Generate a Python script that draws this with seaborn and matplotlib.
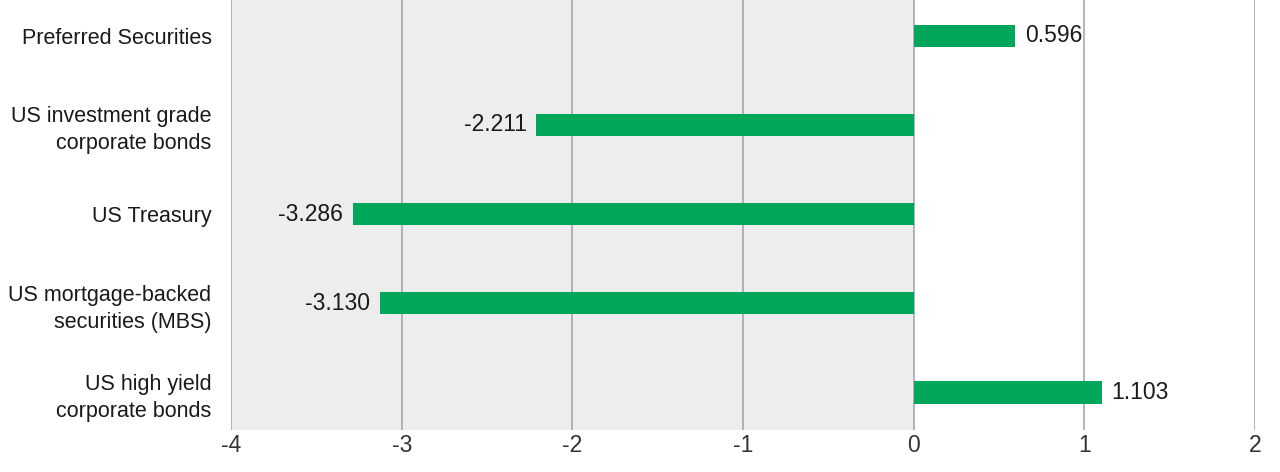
import matplotlib
matplotlib.use("Agg")
import matplotlib.pyplot as plt
import seaborn as sns

categories = ["Preferred Securities",
              "US investment grade\ncorporate bonds",
              "US Treasury",
              "US mortgage-backed\nsecurities (MBS)",
              "US high yield\ncorporate bonds"]
values = [0.596, -2.211, -3.286, -3.130, 1.103]
xticks = [-4, -3, -2, -1, 0, 1, 2]

sns.set_theme(style="white")
plt.rcParams['font.family'] = ['Liberation Sans', 'DejaVu Sans']

fig = plt.figure(figsize=(12.8, 4.72), dpi=100)
ax = fig.add_axes([0.1805, 0.089, 0.8, 0.911])

# grey shaded negative side + vertical grid
ax.axvspan(-4, 0, color='#ededed', zorder=0, lw=0)
for t in xticks:
    ax.axvline(t, color='#a0a0ac', lw=1.1, zorder=1)

sns.barplot(x=values, y=categories, color='#00a65a', width=0.25,
            saturation=1, orient='h', ax=ax, zorder=2, linewidth=0)
ax.bar_label(ax.containers[0], fmt='%.3f', padding=7, fontsize=16.5, color='#1a1a1a')

ax.set_xlim(-4, 2)
ax.set_ylim(4.42, -0.4)
ax.set_xticks(xticks)
ax.set_xticklabels([str(t) for t in xticks], fontsize=16.5, color='#333333')
ax.tick_params(axis='y', labelsize=15.5, colors='#1a1a1a', length=0, pad=14)
ax.tick_params(axis='x', length=0, pad=3)
for lbl in ax.get_yticklabels():
    lbl.set_horizontalalignment('right')
    lbl.set_multialignment('right')
    lbl.set_linespacing(1.38)
for s in ax.spines.values():
    s.set_visible(False)
ax.set_xlabel('')
ax.set_ylabel('')

fig.savefig('out.png', dpi=100)
